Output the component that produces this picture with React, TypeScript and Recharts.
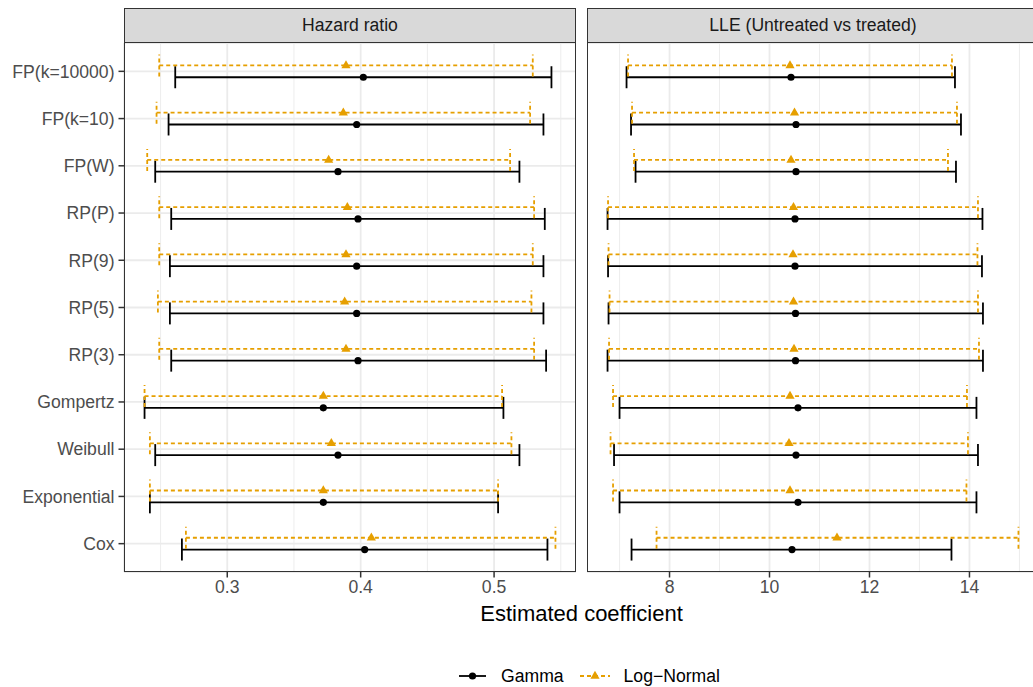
import React from 'react';
import {
  ScatterChart,
  Scatter,
  XAxis,
  YAxis,
  CartesianGrid,
  ErrorBar,
  ReferenceLine,
} from 'recharts';

// models, top to bottom
const models = [
  'FP(k=10000)',
  'FP(k=10)',
  'FP(W)',
  'RP(P)',
  'RP(9)',
  'RP(5)',
  'RP(3)',
  'Gompertz',
  'Weibull',
  'Exponential',
  'Cox',
];

// Hazard ratio
const hrGammaEst = [0.402, 0.397, 0.383, 0.398, 0.397, 0.397, 0.398, 0.372, 0.383, 0.372, 0.403];
const hrGammaLow = [0.261, 0.256, 0.246, 0.258, 0.257, 0.257, 0.258, 0.238, 0.246, 0.242, 0.266];
const hrGammaHigh = [0.543, 0.537, 0.519, 0.538, 0.537, 0.537, 0.539, 0.507, 0.519, 0.503, 0.540];
const hrLogNormEst = [0.389, 0.387, 0.376, 0.390, 0.389, 0.388, 0.389, 0.372, 0.378, 0.372, 0.408];
const hrLogNormLow = [0.249, 0.247, 0.240, 0.249, 0.249, 0.248, 0.249, 0.238, 0.242, 0.242, 0.269];
const hrLogNormHigh = [0.529, 0.527, 0.512, 0.530, 0.529, 0.528, 0.530, 0.506, 0.513, 0.503, 0.546];

// LLE (untreated vs treated)
const lleGammaEst = [10.43, 10.53, 10.53, 10.51, 10.51, 10.52, 10.52, 10.57, 10.53, 10.57, 10.45];
const lleGammaLow = [7.14, 7.23, 7.32, 6.76, 6.77, 6.78, 6.76, 7.0, 6.89, 7.0, 7.24];
const lleGammaHigh = [13.71, 13.83, 13.73, 14.26, 14.25, 14.27, 14.27, 14.14, 14.17, 14.14, 13.64];
const lleLogNormEst = [10.41, 10.5, 10.43, 10.48, 10.47, 10.48, 10.49, 10.41, 10.39, 10.41, 11.35];
const lleLogNormLow = [7.17, 7.25, 7.29, 6.77, 6.78, 6.8, 6.79, 6.87, 6.82, 6.87, 7.74];
const lleLogNormHigh = [13.65, 13.75, 13.57, 14.17, 14.16, 14.17, 14.19, 13.95, 13.97, 13.94, 14.98];

const hrTicks = [0.3, 0.4, 0.5];
const hrMinor = [0.25, 0.35, 0.45, 0.55];
const lleTicks = [8, 10, 12, 14];
const lleMinor = [7, 9, 11, 13, 15];

const FONT = '"Liberation Sans", Arial, Helvetica, sans-serif';
const ORANGE = '#E69F00';
const BORDER = '#333333';
const GRID = '#EBEBEB';

const PANEL_TOP = 43;
const PANEL_H = 529;
const PANEL_W = 452;
const AXIS_H = 40;
const Y_AXIS_W = 124;
const RIGHT_LEFT = 587;
const DODGE = 0.125;

const buildRows = (est: number[], low: number[], high: number[], shift: number) =>
  est.map((e, i) => ({
    model: models[i],
    pos: i + shift,
    est: e,
    err: [e - low[i], high[i] - e],
  }));

const paddedDomain = (lows: number[], highs: number[]): [number, number] => {
  const lo = Math.min(...lows);
  const hi = Math.max(...highs);
  const pad = (hi - lo) * 0.05;
  return [lo - pad, hi + pad];
};

const GammaDot = (props: any) => <circle cx={props.cx} cy={props.cy} r={3.6} fill="#000" />;

const LogNormTri = (props: any) => {
  const { cx, cy } = props;
  return (
    <path
      d={`M${cx},${cy - 5.2} L${cx + 4.6},${cy + 2.8} L${cx - 4.6},${cy + 2.8} Z`}
      fill={ORANGE}
    />
  );
};

type PanelProps = {
  gamma: ReturnType<typeof buildRows>;
  logNorm: ReturnType<typeof buildRows>;
  domain: [number, number];
  ticks: number[];
  minor: number[];
  showY: boolean;
};

const Panel = ({ gamma, logNorm, domain, ticks, minor, showY }: PanelProps) => (
  <ScatterChart
    width={(showY ? Y_AXIS_W : 0) + PANEL_W}
    height={PANEL_TOP + PANEL_H + AXIS_H}
    margin={{ top: PANEL_TOP, right: 0, bottom: 0, left: 0 }}
  >
    <CartesianGrid stroke={GRID} strokeWidth={1.8} />
    {minor.map((v) => (
      <ReferenceLine key={v} x={v} stroke={GRID} strokeWidth={0.9} />
    ))}
    <XAxis
      type="number"
      dataKey="est"
      domain={domain}
      ticks={ticks}
      allowDataOverflow
      height={AXIS_H}
      axisLine={false}
      tickSize={5.5}
      tickMargin={3}
      tickLine={{ stroke: BORDER, strokeWidth: 1.5 }}
      tick={{ fontSize: 17.6, fill: '#4D4D4D' }}
    />
    <YAxis
      type="number"
      dataKey="pos"
      domain={[-0.6, models.length - 0.4]}
      reversed
      allowDataOverflow
      ticks={models.map((_, i) => i)}
      interval={0}
      tickFormatter={(i: number) => models[i]}
      width={showY ? Y_AXIS_W : 0}
      axisLine={false}
      tick={showY ? { fontSize: 17.6, fill: '#4D4D4D' } : false}
      tickLine={showY ? { stroke: BORDER, strokeWidth: 1.5 } : false}
      tickSize={5.5}
      tickMargin={4}
    />
    <Scatter data={gamma} shape={GammaDot} isAnimationActive={false}>
      <ErrorBar
        dataKey="err"
        direction="x"
        width={11}
        stroke="#000"
        strokeWidth={1.8}
        isAnimationActive={false}
      />
    </Scatter>
    <Scatter data={logNorm} shape={LogNormTri} isAnimationActive={false}>
      <ErrorBar
        dataKey="err"
        direction="x"
        width={11}
        stroke={ORANGE}
        strokeWidth={1.8}
        strokeDasharray="4 3"
        isAnimationActive={false}
      />
    </Scatter>
  </ScatterChart>
);

const Strip = ({ left, text }: { left: number; text: string }) => (
  <div
    style={{
      position: 'absolute',
      left,
      top: 8,
      width: PANEL_W,
      height: PANEL_TOP - 8,
      boxSizing: 'border-box',
      background: '#D9D9D9',
      border: `1.5px solid ${BORDER}`,
      color: '#1A1A1A',
      fontSize: 17.6,
      display: 'flex',
      alignItems: 'center',
      justifyContent: 'center',
    }}
  >
    {text}
  </div>
);

const Frame = ({ left }: { left: number }) => (
  <div
    style={{
      position: 'absolute',
      left,
      top: PANEL_TOP - 1,
      width: PANEL_W,
      height: PANEL_H + 1,
      boxSizing: 'border-box',
      border: `1.5px solid ${BORDER}`,
      pointerEvents: 'none',
    }}
  />
);

export default function App() {
  const hrGamma = buildRows(hrGammaEst, hrGammaLow, hrGammaHigh, DODGE);
  const hrLogNorm = buildRows(hrLogNormEst, hrLogNormLow, hrLogNormHigh, -DODGE);
  const lleGamma = buildRows(lleGammaEst, lleGammaLow, lleGammaHigh, DODGE);
  const lleLogNorm = buildRows(lleLogNormEst, lleLogNormLow, lleLogNormHigh, -DODGE);

  const hrDomain = paddedDomain([...hrGammaLow, ...hrLogNormLow], [...hrGammaHigh, ...hrLogNormHigh]);
  const lleDomain = paddedDomain([...lleGammaLow, ...lleLogNormLow], [...lleGammaHigh, ...lleLogNormHigh]);

  return (
    <div
      style={{
        position: 'fixed',
        left: 0,
        top: 0,
        width: 1033,
        height: 687,
        overflow: 'hidden',
        background: '#fff',
        fontFamily: FONT,
      }}
    >
      <div style={{ position: 'absolute', left: 0, top: 0 }}>
        <Panel gamma={hrGamma} logNorm={hrLogNorm} domain={hrDomain} ticks={hrTicks} minor={hrMinor} showY />
      </div>
      <div style={{ position: 'absolute', left: RIGHT_LEFT, top: 0 }}>
        <Panel gamma={lleGamma} logNorm={lleLogNorm} domain={lleDomain} ticks={lleTicks} minor={lleMinor} showY={false} />
      </div>
      <Frame left={Y_AXIS_W} />
      <Frame left={RIGHT_LEFT} />
      <Strip left={Y_AXIS_W} text="Hazard ratio" />
      <Strip left={RIGHT_LEFT} text="LLE (Untreated vs treated)" />

      <div
        style={{
          position: 'absolute',
          left: Y_AXIS_W,
          width: RIGHT_LEFT + PANEL_W - Y_AXIS_W,
          top: 603,
          lineHeight: '22px',
          fontSize: 22,
          color: '#000',
          textAlign: 'center',
        }}
      >
        Estimated coefficient
      </div>

      <div
        style={{
          position: 'absolute',
          left: 459,
          top: 667,
          height: 18,
          display: 'flex',
          alignItems: 'center',
          fontSize: 17.6,
          color: '#000',
        }}
      >
        <svg width={28} height={18}>
          <line x1={0} y1={9} x2={27} y2={9} stroke="#000" strokeWidth={1.8} />
          <circle cx={13.5} cy={9} r={3.6} fill="#000" />
        </svg>
        <span style={{ marginLeft: 14 }}>Gamma</span>
        <svg width={30} height={18} style={{ marginLeft: 16 }}>
          <line x1={0} y1={9} x2={30} y2={9} stroke={ORANGE} strokeWidth={1.8} strokeDasharray="4 3" />
          <path d="M15,3.8 L19.6,11.8 L10.4,11.8 Z" fill={ORANGE} />
        </svg>
        <span style={{ marginLeft: 14 }}>Log−Normal</span>
      </div>
    </div>
  );
}
